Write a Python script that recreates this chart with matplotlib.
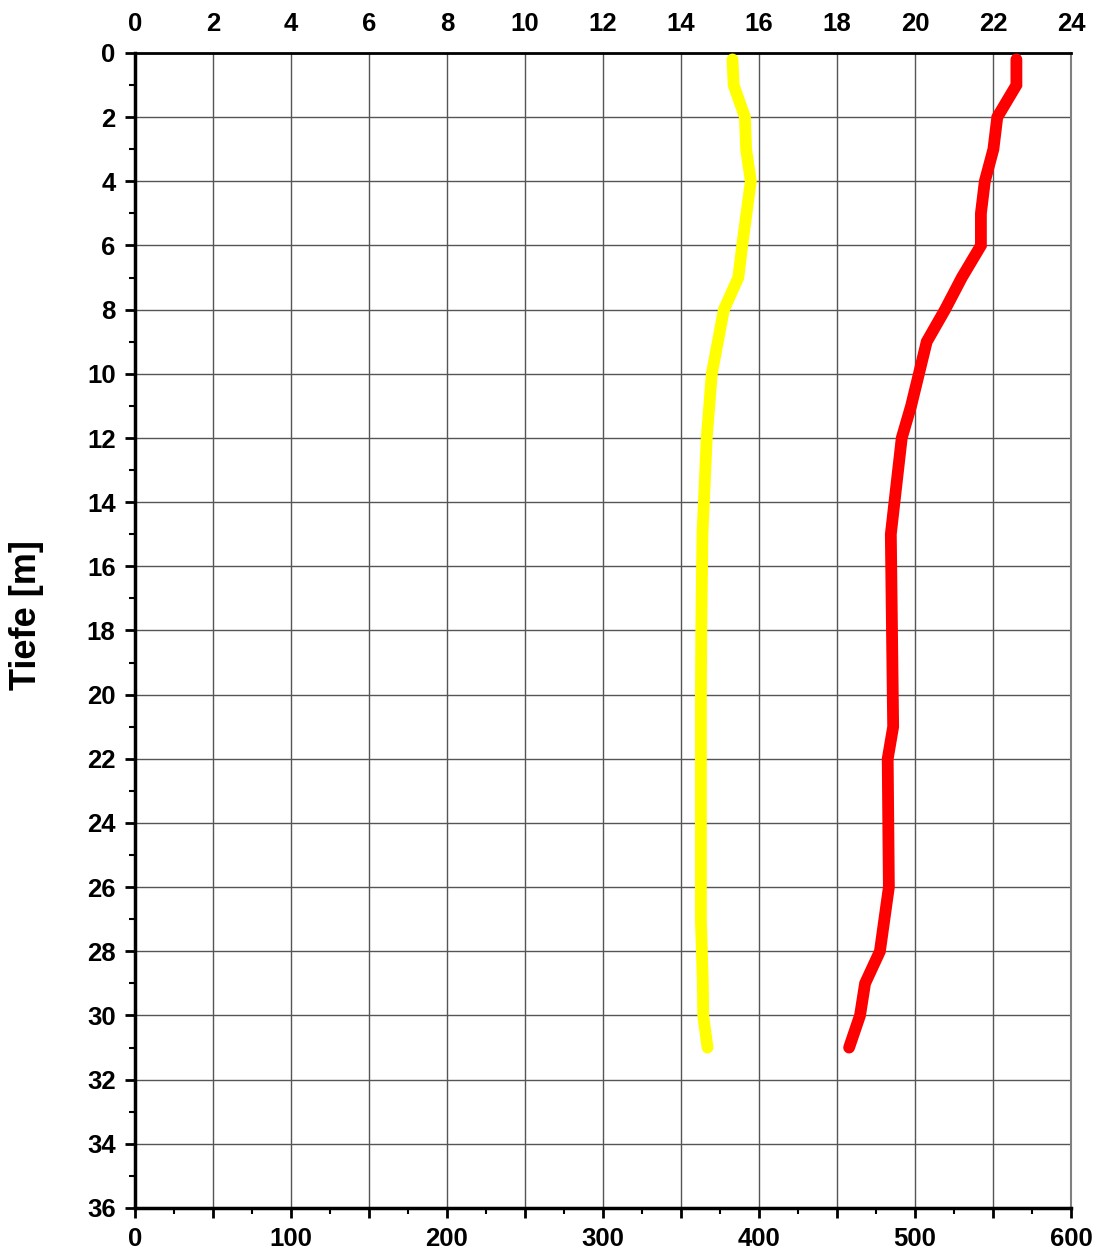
import matplotlib
matplotlib.use("Agg")
import matplotlib.pyplot as plt
from matplotlib.ticker import MultipleLocator, FixedLocator, FuncFormatter

plt.rcParams['font.family'] = ['Liberation Sans', 'DejaVu Sans']
plt.rcParams['font.weight'] = 'bold'

# Data (top scale 0-24)
yellow_depth = [0.2, 1, 2, 3, 4, 6, 7, 8, 10, 12, 15, 18, 20, 27, 29, 30, 31]
yellow_value = [15.32, 15.35, 15.64, 15.67, 15.79, 15.57, 15.47, 15.10, 14.79, 14.66, 14.55, 14.52, 14.51, 14.51, 14.56, 14.57, 14.68]

red_depth = [0.2, 1, 2, 3, 4, 5, 6, 7, 8, 9, 10, 11, 12, 15, 21, 22, 26, 28, 29, 30, 31]
red_value = [22.6, 22.6, 22.11, 22.01, 21.79, 21.69, 21.69, 21.2, 20.77, 20.3, 20.1, 19.9, 19.66, 19.38, 19.44, 19.3, 19.33, 19.1, 18.72, 18.59, 18.31]

top_ticks = list(range(0, 25, 2))
bottom_ticks = list(range(0, 601, 100))
depth_ticks = list(range(0, 37, 2))
y_label = "Tiefe [m]"

fig = plt.figure(figsize=(10.96, 12.55), dpi=100)
ax = fig.add_axes([135/1096, 1 - 1208/1255, (1071-135)/1096, (1208-53)/1255])

ax.set_xlim(0, 600)
ax.set_ylim(36, 0)
ax.xaxis.set_major_locator(MultipleLocator(50))
ax.xaxis.set_minor_locator(MultipleLocator(25))
ax.xaxis.set_major_formatter(FuncFormatter(lambda v, p: f"{int(v)}" if int(v) % 100 == 0 else ""))
ax.yaxis.set_major_locator(FixedLocator(depth_ticks))
ax.yaxis.set_minor_locator(MultipleLocator(1))
ax.tick_params(axis='both', which='major', direction='out', length=7, width=2, labelsize=18.5, color='black')
ax.tick_params(axis='both', which='minor', direction='out', length=4, width=1.5, color='black')
ax.tick_params(axis='x', which='major', pad=7)
ax.tick_params(axis='y', which='major', pad=7)
for lbl in ax.get_xticklabels() + ax.get_yticklabels():
    lbl.set_fontweight('bold')

ax.grid(True, which='major', color='#555555', linewidth=1.0)
ax.set_axisbelow(True)

for side in ['left', 'bottom']:
    ax.spines[side].set_linewidth(2.5)
    ax.spines[side].set_color('black')
ax.spines['top'].set_linewidth(2.0)
ax.spines['top'].set_color('black')
ax.spines['right'].set_linewidth(1.5)
ax.spines['right'].set_color('#808080')

ax.set_ylabel(y_label, fontsize=26, fontweight='bold')
ax.yaxis.set_label_coords(-0.097, 0.513)

ax2 = ax.twiny()
ax2.set_xlim(0, 24)
ax2.set_xticks(top_ticks)
ax2.set_xticklabels([str(t) for t in top_ticks])
ax2.tick_params(axis='x', which='major', length=0, labelsize=18.5, pad=12)
for lbl in ax2.get_xticklabels():
    lbl.set_fontweight('bold')
for s in ax2.spines.values():
    s.set_visible(False)

ax2.plot(yellow_value, yellow_depth, color='#FFFF00', linewidth=8.5,
         solid_capstyle='round', solid_joinstyle='miter', zorder=3)
ax2.plot(red_value, red_depth, color='#FF0000', linewidth=8.5,
         solid_capstyle='round', solid_joinstyle='miter', zorder=3)
ax2.set_ylim(36, 0)

fig.savefig("out.png", dpi=100)
